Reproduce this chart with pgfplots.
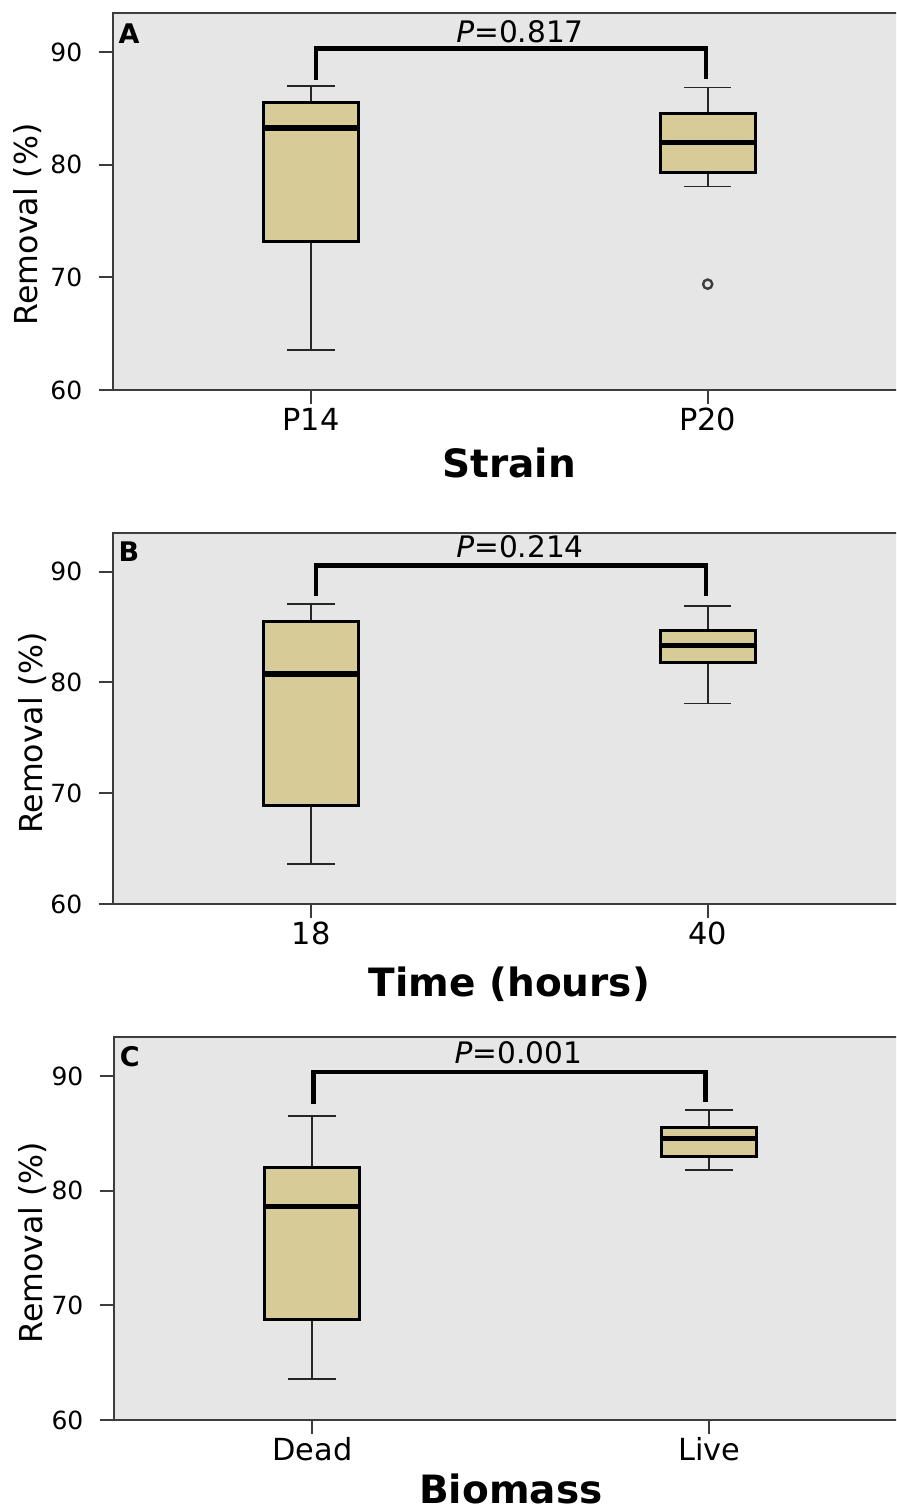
\documentclass[border=0pt]{standalone}
\usepackage{fontspec}
\setmainfont{DejaVu Sans}
\usepackage{pgfplots}
\pgfplotsset{compat=1.18}
\usepgfplotslibrary{statistics}
\definecolor{bggray}{RGB}{230,230,230}
\definecolor{boxtan}{RGB}{215,204,152}
\definecolor{axgray}{RGB}{60,60,60}
\tikzset{
 ptext/.style={anchor=base, inner sep=0pt, font=\fontsize{14.8}{17}\selectfont},
 plabel/.style={anchor=base west, inner sep=0pt, font=\bfseries\fontsize{13.5}{16}\selectfont},
}
\pgfplotsset{
 panel/.style={
  scale only axis, anchor=south west,
  xmin=-0.5, xmax=1.5, ymin=60, ymax=93.45,
  xtick={0,1}, ytick={60,70,80,90},
  tick pos=left, tick align=outside,
  major tick length=7pt,
  axis line style={axgray, line width=1pt},
  tick style={axgray, line width=1pt},
  axis background/.style={fill=bggray},
  /pgf/number format/assume math mode=true,
  yticklabel style={font=\fontsize{12.5}{14}\selectfont, anchor=east, inner sep=0pt, xshift=-8pt},
  xticklabel style={font=\fontsize{15.2}{18}\selectfont, anchor=base, inner sep=0pt, yshift=-13pt},
  ylabel style={font=\fontsize{15.8}{18}\selectfont, anchor=center},
  xlabel style={font=\bfseries\fontsize{19.5}{22}\selectfont, anchor=base},
  boxplot/draw direction=y,
  boxplot/box extend=0.24,
  boxplot/whisker extend=0.12,
  boxplot/every box/.style={draw=black, line width=1.5pt, fill=boxtan},
  boxplot/every whisker/.style={draw=black!85, line width=0.9pt},
  boxplot/every median/.style={draw=black, line width=2.6pt},
  clip=false,
 },
 bracket/.style={black, line width=2.3pt, mark=none, line join=miter},
}
\begin{document}
\begin{tikzpicture}
\path[use as bounding box] (0pt,0pt) rectangle (448pt,-755pt);
\clip (0pt,0pt) rectangle (448pt,-755pt);
% ---------- Panel A ----------
\begin{axis}[panel, at={(56.35pt,-195pt)}, width=396.65pt, height=188.35pt,
  xticklabels={P14,P20}, xlabel={Strain}, ylabel={Removal (\%)},
  xlabel style={at={(axis description cs:0.5,0)}, yshift=-43.5pt},
  ylabel style={at={(axis description cs:-0.1074,0.44)}}]
\addplot[boxplot prepared={draw position=0, lower whisker=63.55, lower quartile=73.16, median=83.27, upper quartile=85.5, upper whisker=87.0}] coordinates {};
\addplot[boxplot prepared={draw position=1, lower whisker=78.07, lower quartile=79.34, median=81.95, upper quartile=84.55, upper whisker=86.86}, mark=o, mark size=2.3pt, mark options={draw=axgray, line width=1.2pt}] table[row sep=\\, y index=0] {val\\ 69.4\\};
\addplot[bracket] coordinates {(0.013,87.5) (0.013,90.32) (0.996,90.32) (0.996,87.66)};
\node[ptext] at (axis cs:0.527,90.9) {\textit{P}=0.817};
\node[plabel, xshift=2.8pt, yshift=-15pt] at (rel axis cs:0,1) {A};
\end{axis}
% ---------- Panel B ----------
\begin{axis}[panel, at={(56.35pt,-452pt)}, width=396.65pt, height=185.35pt,
  xticklabels={18,40}, xlabel={Time (hours)}, ylabel={Removal (\%)},
  xlabel style={at={(axis description cs:0.5,0)}, yshift=-46.4pt},
  ylabel style={at={(axis description cs:-0.1005,0.461)}}]
\addplot[boxplot prepared={draw position=0, lower whisker=63.58, lower quartile=68.85, median=80.75, upper quartile=85.5, upper whisker=87.07}] coordinates {};
\addplot[boxplot prepared={draw position=1, lower whisker=78.1, lower quartile=81.83, median=83.3, upper quartile=84.69, upper whisker=86.92}] coordinates {};
\addplot[bracket] coordinates {(0.013,87.76) (0.013,90.56) (0.996,90.56) (0.996,87.8)};
\node[ptext] at (axis cs:0.527,91.23) {\textit{P}=0.214};
\node[plabel, xshift=2.8pt, yshift=-14.2pt] at (rel axis cs:0,1) {B};
\end{axis}
% ---------- Panel C ----------
\begin{axis}[panel, at={(56.9pt,-710pt)}, width=397pt, height=191.65pt,
  xticklabels={Dead,Live}, xlabel={Biomass}, ylabel={Removal (\%)},
  xlabel style={at={(axis description cs:0.5,0)}, yshift=-41.6pt},
  ylabel style={at={(axis description cs:-0.102,0.463)}}]
\addplot[boxplot prepared={draw position=0, lower whisker=63.55, lower quartile=68.8, median=78.6, upper quartile=82.03, upper whisker=86.53}] coordinates {};
\addplot[boxplot prepared={draw position=1, lower whisker=81.8, lower quartile=83.02, median=84.56, upper quartile=85.57, upper whisker=87.03}] coordinates {};
\addplot[bracket] coordinates {(0.003,87.6) (0.003,90.37) (0.991,90.37) (0.991,87.75)};
\node[ptext] at (axis cs:0.519,91.1) {\textit{P}=0.001};
\node[plabel, xshift=2.8pt, yshift=-15pt] at (rel axis cs:0,1) {C};
\end{axis}
\end{tikzpicture}
\end{document}
